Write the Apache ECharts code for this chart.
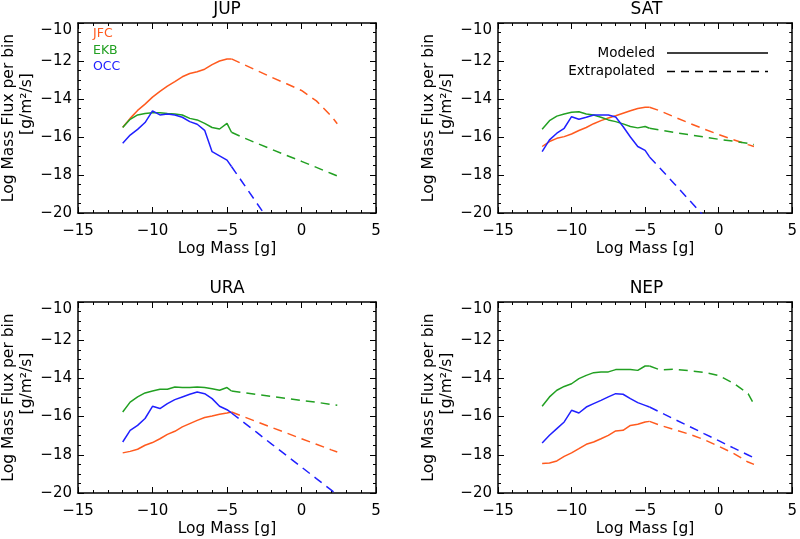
<!DOCTYPE html>
<html><head><meta charset="utf-8">
<script src="https://cdn.jsdelivr.net/npm/echarts@6/dist/echarts.min.js"></script>
<style>html,body{margin:0;padding:0;background:#fff}#c{width:800px;height:539px}</style>
</head><body><div id="c"></div>
<script>
const panelNames = ['JUP', 'SAT', 'URA', 'NEP'];
const populations = ['JFC', 'EKB', 'OCC'];
const popColors = ['#ff5a1e', '#22a022', '#2020ff'];
const xTickMin = -15, xTickMax = 5, xTickStep = 5;
const yTickMin = -20, yTickMax = -10, yTickStep = 2;
const legendLabels = ['Modeled', 'Extrapolated'];

// log mass grid (bins)
const modeledX = [-12, -11.5, -11, -10.5, -10, -9.5, -9, -8.5, -8, -7.5, -7, -6.5, -6, -5.5, -5, -4.7];
const extrapX = [-4.7, -4, -3, -2, -1, 0, 1, 2, 2.4];

// JUP
const jupJfcModeled = [-15.49, -15.02, -14.6, -14.27, -13.9, -13.6, -13.32, -13.08, -12.83, -12.66, -12.57, -12.43, -12.19, -12.0, -11.9, -11.89];
const jupJfcExtrap = [-11.89, -12.14, -12.5, -12.86, -13.2, -13.55, -14.1, -14.9, -15.3];
const jupEkbModeled = [-15.5, -15.07, -14.84, -14.76, -14.72, -14.72, -14.76, -14.79, -14.84, -15.02, -15.1, -15.28, -15.5, -15.58, -15.28, -15.75];
const jupEkbExtrap = [-15.75, -16.0, -16.33, -16.65, -16.97, -17.28, -17.6, -17.92, -18.05];
const jupOccModeled = [-16.33, -15.9, -15.6, -15.24, -14.62, -14.84, -14.79, -14.84, -14.96, -15.19, -15.33, -15.65, -16.77, -16.99, -17.22, -17.55];
const jupOccExtrap = [-17.55, -18.34, -19.48, -20.61, -21.7, -22.9, -24.0, -25.2, -25.6];

// SAT
const satJfcModeled = [-16.5, -16.24, -16.07, -15.98, -15.84, -15.66, -15.5, -15.3, -15.14, -15.0, -14.88, -14.75, -14.62, -14.5, -14.44, -14.43];
const satJfcExtrap = [-14.43, -14.62, -14.95, -15.27, -15.58, -15.87, -16.14, -16.4, -16.5];
const satEkbModeled = [-15.59, -15.14, -14.9, -14.79, -14.7, -14.67, -14.79, -14.84, -14.96, -15.1, -15.19, -15.31, -15.45, -15.52, -15.45, -15.54];
const satEkbExtrap = [-15.54, -15.63, -15.76, -15.88, -16.0, -16.12, -16.22, -16.33, -16.4];
const satOccModeled = [-16.77, -16.15, -15.8, -15.54, -14.93, -15.07, -14.96, -14.84, -14.84, -14.84, -14.95, -15.45, -16.0, -16.5, -16.7, -17.05];
const satOccExtrap = [-17.05, -17.63, -18.47, -19.32, -20.17, -21.0, -21.9, -22.7, -23.1];

// URA
const uraJfcModeled = [-17.9, -17.82, -17.71, -17.5, -17.36, -17.16, -16.93, -16.77, -16.54, -16.37, -16.2, -16.05, -15.97, -15.88, -15.81, -15.76];
const uraJfcExtrap = [-15.76, -15.97, -16.27, -16.57, -16.86, -17.16, -17.45, -17.74, -17.85];
const uraEkbModeled = [-15.76, -15.24, -14.97, -14.76, -14.66, -14.57, -14.57, -14.45, -14.48, -14.48, -14.45, -14.48, -14.54, -14.62, -14.48, -14.66];
const uraEkbExtrap = [-14.66, -14.73, -14.84, -14.94, -15.05, -15.15, -15.25, -15.36, -15.4];
const uraOccModeled = [-17.33, -16.72, -16.46, -16.1, -15.46, -15.58, -15.32, -15.11, -14.97, -14.83, -14.71, -14.8, -15.06, -15.46, -15.64, -15.81];
const uraOccExtrap = [-15.81, -16.23, -16.83, -17.44, -18.04, -18.64, -19.25, -19.85, -20.1];

// NEP
const nepJfcModeled = [-18.46, -18.43, -18.32, -18.08, -17.9, -17.68, -17.45, -17.33, -17.16, -16.98, -16.75, -16.72, -16.46, -16.4, -16.28, -16.25];
const nepJfcExtrap = [-16.25, -16.45, -16.68, -16.92, -17.2, -17.55, -17.92, -18.38, -18.5];
const nepEkbModeled = [-15.46, -14.97, -14.62, -14.42, -14.28, -14.01, -13.84, -13.7, -13.66, -13.66, -13.54, -13.54, -13.54, -13.58, -13.35, -13.35];
const nepEkbExtrap = [-13.35, -13.55, -13.52, -13.6, -13.68, -13.85, -14.25, -14.8, -15.35];
const nepOccModeled = [-17.38, -16.98, -16.63, -16.28, -15.67, -15.81, -15.5, -15.32, -15.15, -14.97, -14.8, -14.83, -15.06, -15.27, -15.41, -15.5];
const nepOccExtrap = [-15.5, -15.76, -16.14, -16.51, -16.89, -17.26, -17.64, -18.01, -18.16];

const panelData = [
  [[jupJfcModeled, jupJfcExtrap], [jupEkbModeled, jupEkbExtrap], [jupOccModeled, jupOccExtrap]],
  [[satJfcModeled, satJfcExtrap], [satEkbModeled, satEkbExtrap], [satOccModeled, satOccExtrap]],
  [[uraJfcModeled, uraJfcExtrap], [uraEkbModeled, uraEkbExtrap], [uraOccModeled, uraOccExtrap]],
  [[nepJfcModeled, nepJfcExtrap], [nepEkbModeled, nepEkbExtrap], [nepOccModeled, nepOccExtrap]]
];

const FONT = '"DejaVu Sans", "Liberation Sans", sans-serif';
const grids = [
  {left: 78, top: 23, width: 298, height: 190},
  {left: 498, top: 23, width: 297, height: 190},
  {left: 78, top: 302, width: 298, height: 191},
  {left: 498, top: 302, width: 297, height: 191}
];
const fmt = v => String(v).replace('-', '\u2212');
const lineCol = '#000';

const xAxes = [], yAxes = [], series = [], titles = [], graphics = [];
grids.forEach((g, i) => {
  const common = {
    type: 'value', gridIndex: i, splitLine: {show: false},
    axisLine: {show: true, onZero: false, lineStyle: {color: lineCol, width: 1.5}},
    axisTick: {show: true, inside: true, length: 6, lineStyle: {color: lineCol, width: 1}},
  };
  xAxes.push(Object.assign({}, common, {
    position: 'bottom', min: xTickMin, max: xTickMax, interval: xTickStep,
    minorTick: {show: true, splitNumber: 5, length: 3, lineStyle: {color: lineCol, width: 1}},
    axisLabel: {color: '#000', fontSize: 15, fontFamily: FONT, margin: 11, formatter: fmt},
    name: 'Log Mass [g]', nameLocation: 'middle', nameGap: 28,
    nameTextStyle: {color: '#000', fontSize: 15.5, fontFamily: FONT}
  }));
  xAxes.push(Object.assign({}, common, {
    position: 'top', min: xTickMin, max: xTickMax, interval: xTickStep,
    minorTick: {show: true, splitNumber: 5, length: 3, lineStyle: {color: lineCol, width: 1}},
    axisLabel: {show: false}
  }));
  yAxes.push(Object.assign({}, common, {
    position: 'left', min: yTickMin, max: yTickMax, interval: yTickStep,
    minorTick: {show: true, splitNumber: 4, length: 3, lineStyle: {color: lineCol, width: 1}},
    axisLabel: {color: '#000', fontSize: 15, fontFamily: FONT, margin: 6, formatter: fmt,
      verticalAlignMaxLabel: 'top'}
  }));
  yAxes.push(Object.assign({}, common, {
    position: 'right', min: yTickMin, max: yTickMax, interval: yTickStep,
    minorTick: {show: true, splitNumber: 4, length: 3, lineStyle: {color: lineCol, width: 1}},
    axisLabel: {show: false}
  }));
  titles.push({
    text: panelNames[i], left: g.left + g.width / 2, top: g.top - 22, textAlign: 'center', padding: 0,
    textStyle: {color: '#000', fontSize: 17, fontWeight: 'normal', fontFamily: FONT}
  });
  graphics.push({type: 'text', x: g.left - 69, y: g.top + g.height / 2, rotation: Math.PI / 2,
    style: {text: 'Log Mass Flux per bin', fill: '#000', fontSize: 15.5, fontFamily: FONT, align: 'center', verticalAlign: 'middle'}});
  graphics.push({type: 'text', x: g.left - 51, y: g.top + g.height / 2 - 14, rotation: Math.PI / 2,
    style: {text: '[g/m\u00b2/s]', fill: '#000', fontSize: 15.5, fontFamily: FONT, align: 'center', verticalAlign: 'middle'}});

  panelData[i].forEach((pair, p) => {
    series.push({
      name: populations[p] + ' ' + legendLabels[0], type: 'line', xAxisIndex: 2 * i, yAxisIndex: 2 * i,
      data: modeledX.map((x, k) => [x, pair[0][k]]), symbol: 'none', clip: true,
      lineStyle: {color: popColors[p], width: 1.5, type: 'solid'}
    });
    series.push({
      name: populations[p] + ' ' + legendLabels[1], type: 'line', xAxisIndex: 2 * i, yAxisIndex: 2 * i,
      data: extrapX.map((x, k) => [x, pair[1][k]]), symbol: 'none', clip: true,
      lineStyle: {color: popColors[p], width: 1.5, type: [9, 6]}
    });
  });
});

// population legend (JUP panel)
const legendY = [34, 50.5, 67];
populations.forEach((name, p) => {
  graphics.push({type: 'text', x: 93, y: legendY[p],
    style: {text: name, fill: popColors[p], fontSize: 12.5, fontFamily: FONT, align: 'left', verticalAlign: 'middle'}});
});
// line style legend (SAT panel)
const styleY = [53, 71.5];
legendLabels.forEach((lab, k) => {
  graphics.push({type: 'text', x: 655, y: styleY[k],
    style: {text: lab, fill: '#000', fontSize: 13.5, fontFamily: FONT, align: 'right', verticalAlign: 'middle'}});
  graphics.push({type: 'line', shape: {x1: 667, y1: styleY[k], x2: 768, y2: styleY[k]},
    style: {stroke: '#000', lineWidth: 1.5, lineDash: k === 0 ? null : [8, 6]}});
});

const chart = echarts.init(document.getElementById('c'), null, {renderer: 'canvas'});
chart.setOption({
  backgroundColor: '#fff',
  animation: false,
  title: titles,
  grid: grids,
  xAxis: xAxes,
  yAxis: yAxes,
  series: series,
  graphic: graphics
});
</script>
</body></html>
